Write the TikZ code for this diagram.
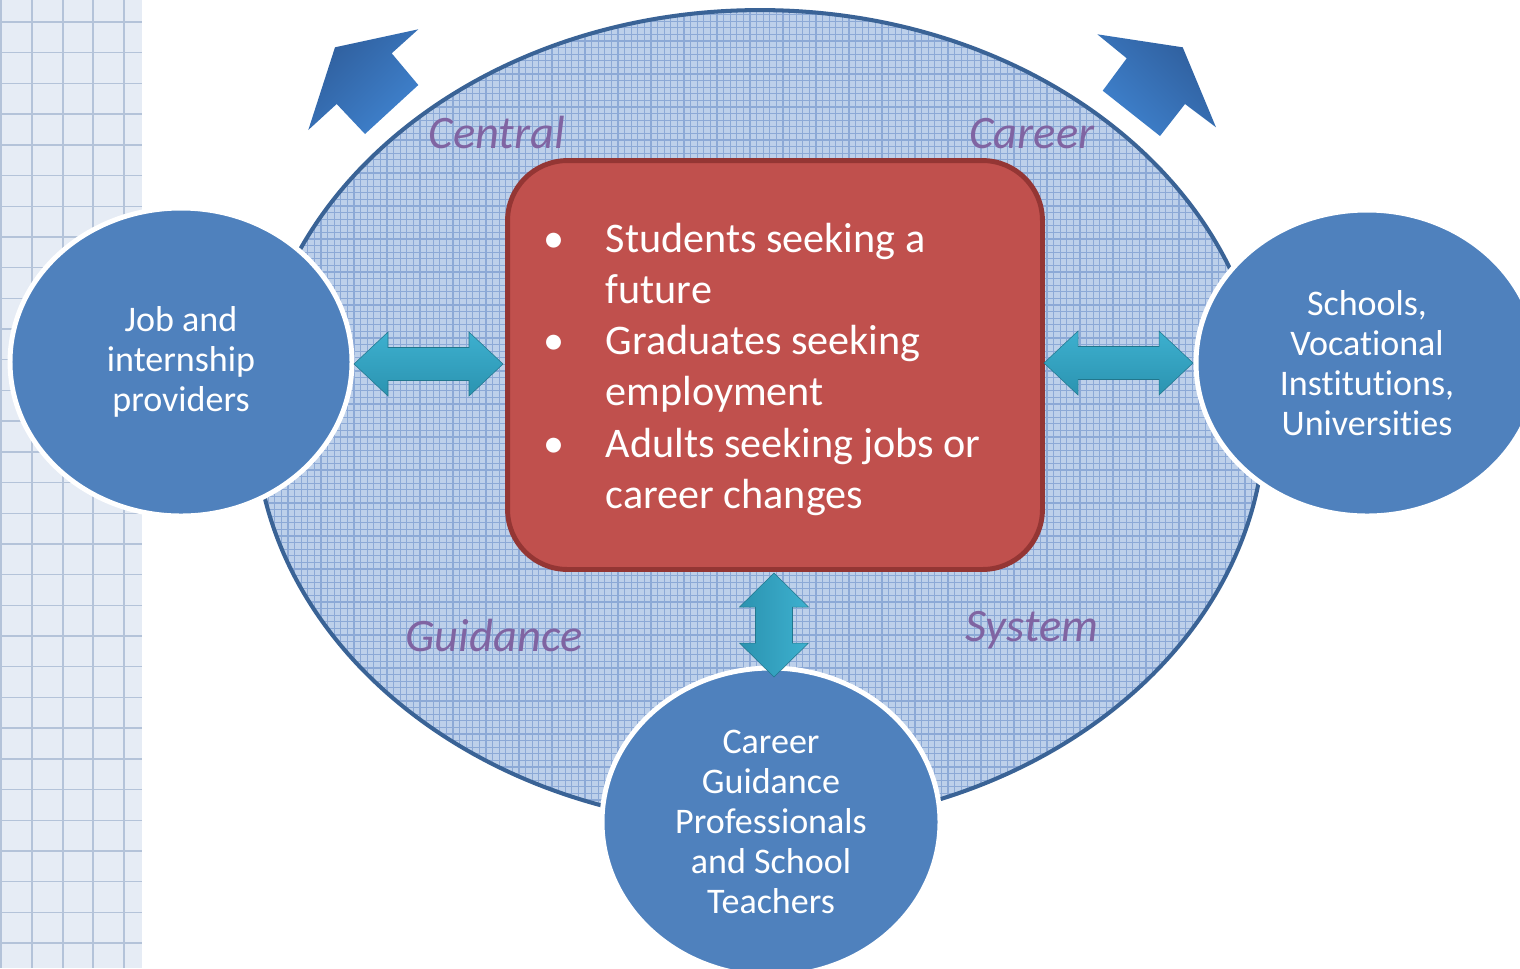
\documentclass[tikz,border=0pt]{standalone}
\usepackage{fontspec}
\setmainfont{Carlito}[Ligatures=NoCommon]
\usetikzlibrary{shapes.geometric,positioning}

\definecolor{partnerblue}{HTML}{4F81BD}
\definecolor{seekred}{HTML}{C0504D}
\definecolor{seekedge}{HTML}{943634}
\definecolor{rimblue}{HTML}{3A6396}
\definecolor{hatchbase}{HTML}{BDD0EA}
\definecolor{hatchline}{HTML}{8CA9D6}
\definecolor{wordpurple}{HTML}{8064A2}
\definecolor{paperbg}{HTML}{E6ECF5}
\definecolor{paperline}{HTML}{B4C3D9}
\definecolor{tealtop}{HTML}{3DB0CF}
\definecolor{tealbot}{HTML}{2B93B0}
\definecolor{flowdark}{HTML}{2F5E9C}
\definecolor{flowlight}{HTML}{3F82CE}

\tikzset{
  partner/.style={ellipse,draw=white,line width=2.8pt,fill=partnerblue,
    text=white,align=center,inner sep=0pt,
    font=\fontsize{20.5}{22.8}\selectfont},
  seekbox/.style={rectangle,rounded corners=1.2cm,draw=seekedge,
    line width=2.8pt,fill=seekred,minimum width=10.7cm,minimum height=8.18cm},
  sysword/.style={anchor=base,text=wordpurple,inner sep=0pt,
    font=\fontsize{26.5}{30}\selectfont\itshape},
  linkarrow/.style={top color=tealtop,bottom color=tealbot,draw=tealbot!80!black,line width=0.3pt},
  flowarrow/.style={top color=flowdark,bottom color=flowlight,draw=none}
}

\begin{document}
\begin{tikzpicture}[x=0.02cm,y=-0.02cm]
  \useasboundingbox (0,0) rectangle (1520,968);

  %% graph paper strip on the left
  \fill[paperbg] (0,0) rectangle (142,968);
  \foreach \x in {1,32,63,93,124}
    \draw[paperline,line width=0.8pt] (\x,0) -- (\x,968);
  \foreach \y in {22,52.7,...,968}
    \draw[paperline,line width=0.8pt] (0,\y) -- (142,\y);

  %% the system ellipse, hatched
  \begin{scope}
    \clip (760,418) ellipse [x radius=10.1cm, y radius=8.16cm];
    \fill[hatchbase] (250,0) rectangle (1270,840);
    \foreach \x in {255,261.6,...,1270}
      \draw[hatchline,line width=0.7pt] (\x,0) -- (\x,840);
    \foreach \y in {8,14.6,...,840}
      \draw[hatchline,line width=0.7pt] (250,\y) -- (1270,\y);
  \end{scope}
  \draw[rimblue,line width=2.3pt] (760,418) ellipse [x radius=10.1cm, y radius=8.16cm];

  %% outgoing arrows
  \shade[flowarrow,shading angle=45] (418.3,29.3) -- (335,47.3) -- (308.3,130) -- (336.7,104)
    -- (365,134) -- (418.3,85) -- (391.7,53.3) -- cycle;
  \shade[flowarrow,shading angle=-45] (1097.3,34.3) -- (1182.7,47.3) -- (1216,127.3) -- (1185,104)
    -- (1160,136) -- (1102.7,90.7) -- (1126.7,58.3) -- cycle;

  %% words round the ellipse
  \node[sysword] (central) at (497,148) {Central};
  \node[sysword] (career) at (1032,148) {Career};
  \node[sysword] (guidance) at (494,651) {Guidance};
  \node[sysword] (system) at (1032,641) {System};

  %% the people seeking
  \node[seekbox] (seekers) at (775,365) {};
  \node[text=white,inner sep=0pt,font=\fontsize{24}{29.2}\selectfont]
    (seeklist) at ([xshift=-0.26cm,yshift=-0.1cm]seekers.center) {%
    \begin{tabular}{@{}p{1.24cm}@{}l@{}}
      \textbullet & Students seeking a\\
                  & future\\
      \textbullet & Graduates seeking\\
                  & employment\\
      \textbullet & Adults seeking jobs or\\
                  & career changes
    \end{tabular}};

  %% partners
  \node[partner,minimum width=6.84cm,minimum height=6.16cm] (jobs) at (181,362)
    {Job and\\internship\\providers};
  \node[partner,minimum width=6.84cm,minimum height=6.12cm] (schools) at (1367,363)
    {Schools,\\Vocational\\Institutions,\\Universities};
  \node[partner,minimum width=6.76cm,minimum height=6.16cm] (crew) at (771,822)
    {Career\\Guidance\\Professionals\\and School\\Teachers};

  %% two-way links
  \coordinate (jobslink) at (428.5,364);
  \coordinate (schoolslink) at (1118.5,363);
  \coordinate (crewlink) at (774,625);
  \shade[linkarrow] (jobslink) ++(-74.5,0) -- ++(34,-32) -- ++(0,15.5) -- ++(81,0) -- ++(0,-15.5)
    -- ++(34,32) -- ++(-34,32) -- ++(0,-15.5) -- ++(-81,0) -- ++(0,15.5) -- cycle;
  \shade[linkarrow] (schoolslink) ++(-74.5,0) -- ++(34,-32) -- ++(0,15.5) -- ++(81,0) -- ++(0,-15.5)
    -- ++(34,32) -- ++(-34,32) -- ++(0,-15.5) -- ++(-81,0) -- ++(0,15.5) -- cycle;
  \shade[linkarrow,top color=tealbot,bottom color=tealtop,shading angle=90] (crewlink) ++(0,-52)
    -- ++(34.5,34) -- ++(-16,0) -- ++(0,36) -- ++(16,0) -- ++(-34.5,34) -- ++(-34.5,-34)
    -- ++(16,0) -- ++(0,-36) -- ++(-16,0) -- cycle;
\end{tikzpicture}
\end{document}
